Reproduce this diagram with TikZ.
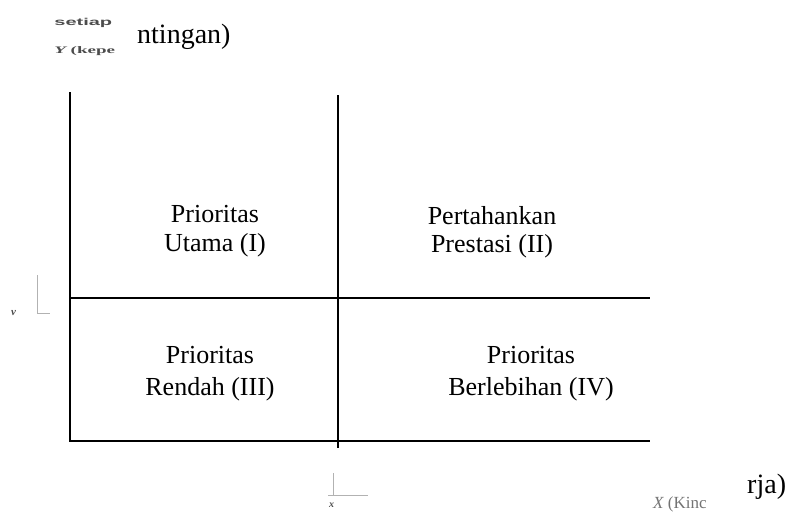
\documentclass[tikz,border=0pt]{standalone}
\usepackage{fontspec}
\setmainfont{Liberation Serif}
\newfontfamily\fragfont{Liberation Sans}
\begin{document}
\begin{tikzpicture}[x=1pt,y=-1pt,
  axis/.style={line width=1.6pt,black},
  thin axis/.style={line width=1.1pt,black},
  ghost/.style={line width=0.9pt,black!30},
  lbl/.style={font=\fontsize{26}{30}\selectfont,inner sep=0pt,anchor=base},
  big/.style={font=\fontsize{28}{30}\selectfont,inner sep=0pt,anchor=base west},
  small/.style={font=\fontsize{10}{10}\selectfont\fragfont\bfseries,text=black!70,inner sep=0pt,anchor=base west}]
\useasboundingbox (0,0) rectangle (786,511);
% axes and grid
\coordinate (ltop) at (70,92);
\coordinate (lbot) at (70,442);
\coordinate (mtop) at (338,95);
\coordinate (mbot) at (338,448);
\coordinate (hl) at (70,298);
\coordinate (hr) at (650,298);
\coordinate (bl) at (70,441);
\coordinate (bm) at (392,441);
\coordinate (br) at (650,441);
\draw[axis] (ltop) -- (lbot);
\draw[axis] (mtop) -- (mbot);
\draw[axis] (hl) -- (hr);
\draw[axis] (bl) -- (bm);
\draw[thin axis] (bm) -- (br);
% quadrant labels
\node[lbl] (q1a) at (215,222) {Prioritas};
\node[lbl] (q1b) at (215,251) {Utama (I)};
\node[lbl] (q2a) at (492,224) {Pertahankan};
\node[lbl] (q2b) at (492,252) {Prestasi (II)};
\node[lbl] (q3a) at (210,363) {Prioritas};
\node[lbl] (q3b) at (210,395) {Rendah (III)};
\node[lbl] (q4a) at (531,363) {Prioritas};
\node[lbl] (q4b) at (531,395) {Berlebihan (IV)};
% fragments top-left
\node[small,xscale=2.0] (s1) at (54,26) {setiap};
\node[small,font=\fontsize{10}{10}\selectfont\bfseries,xscale=1.9] (s2) at (54,53) {\itshape Y\upshape~(kepe};
\fill[white] (136,0) rectangle (260,62);
\node[big] (ytitle) at (137,44) {ntingan)};
% fragments left
\coordinate (gv1) at (37,275);
\coordinate (gv2) at (37,313);
\coordinate (gv3) at (50,313);
\draw[ghost] (gv1) -- (gv2) -- (gv3);
\node[small,font=\fontsize{11}{11}\selectfont\itshape\bfseries] (vlab) at (11,315) {v};
% fragments bottom
\coordinate (gb1) at (333,473);
\coordinate (gb2) at (333,495);
\coordinate (gb3) at (368,495);
\draw[ghost] (gb1) -- (gb2) -- (gb3);
\draw[ghost] (gb2) -- ++(-5,0);
\node[small,font=\fontsize{10}{10}\selectfont\itshape\bfseries] (xlab) at (329,507) {x};
% fragments bottom right
\node[small,font=\fontsize{17}{17}\selectfont,text=black!55] (xtitle) at (653,508) {\itshape X\upshape~(Kinc};
\fill[white] (746,470) rectangle (786,511);
\node[big] (xend) at (747,493) {rja)};
\end{tikzpicture}
\end{document}
